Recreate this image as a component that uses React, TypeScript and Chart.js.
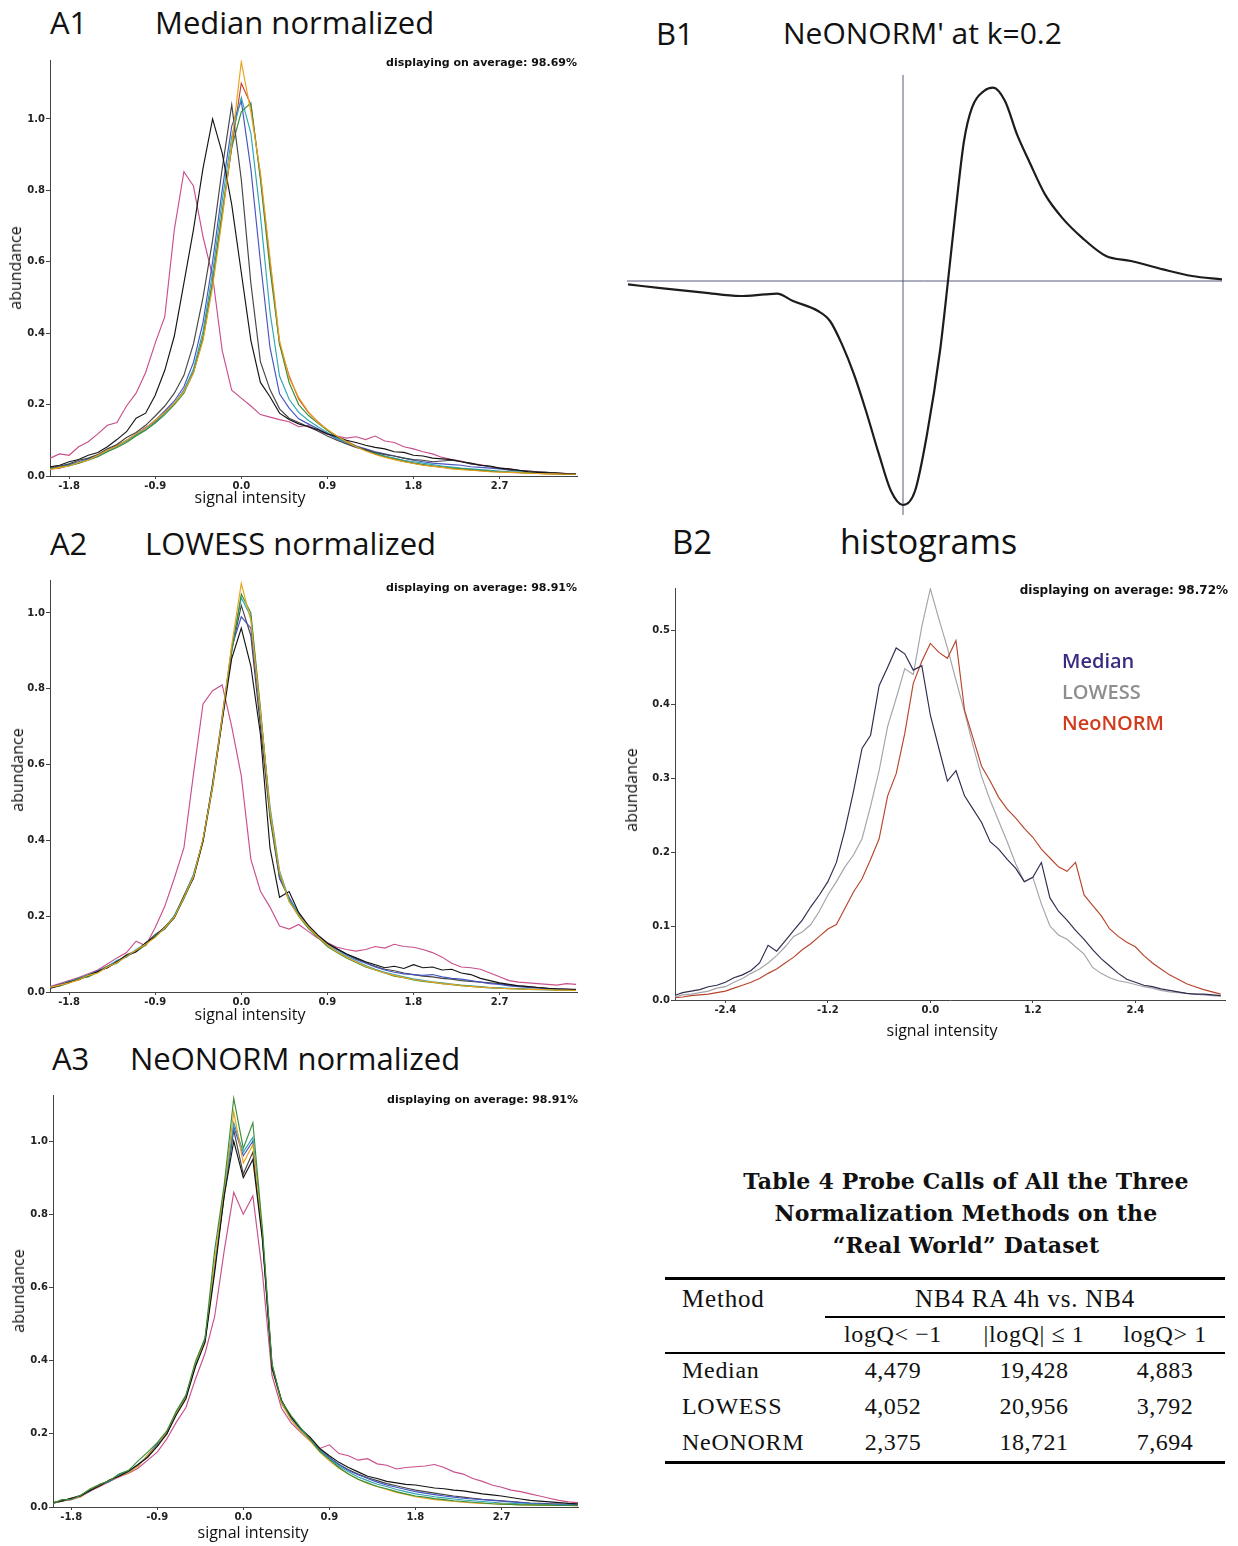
import React, { useEffect, useRef } from "react";
import { Chart, registerables } from "chart.js";
Chart.register(...registerables);

// ---------- DATA ----------
const X_A = [-2.0,-1.9,-1.8,-1.7,-1.6,-1.5,-1.4,-1.3,-1.2,-1.1,-1.0,-0.9,-0.8,-0.7,-0.6,-0.5,-0.4,-0.3,-0.2,-0.1,0.0,0.1,0.2,0.3,0.4,0.5,0.6,0.7,0.8,0.9,1.0,1.1,1.2,1.3,1.4,1.5,1.6,1.7,1.8,1.9,2.0,2.1,2.2,2.3,2.4,2.5,2.6,2.7,2.8,2.9,3.0,3.1,3.2,3.3,3.4,3.5];
const X_TICKS_A = [-1.8, -0.9, 0.0, 0.9, 1.8, 2.7];
const Y_TICKS_A = [0.0, 0.2, 0.4, 0.6, 0.8, 1.0];

// A1 Median normalized
const A1_PINK = [0.050,0.062,0.058,0.082,0.096,0.118,0.142,0.150,0.196,0.232,0.290,0.372,0.446,0.690,0.852,0.812,0.670,0.560,0.352,0.240,0.218,0.196,0.172,0.165,0.158,0.152,0.138,0.142,0.126,0.118,0.112,0.106,0.110,0.102,0.112,0.098,0.094,0.082,0.076,0.068,0.062,0.052,0.046,0.042,0.034,0.032,0.026,0.022,0.020,0.016,0.014,0.012,0.010,0.009,0.007,0.006];
const A1_BLACK = [0.026,0.030,0.040,0.046,0.058,0.066,0.082,0.102,0.124,0.162,0.176,0.226,0.296,0.392,0.540,0.690,0.862,1.000,0.905,0.760,0.570,0.380,0.262,0.222,0.176,0.158,0.146,0.138,0.130,0.118,0.110,0.100,0.094,0.086,0.080,0.076,0.068,0.066,0.058,0.056,0.050,0.048,0.046,0.040,0.036,0.030,0.028,0.022,0.020,0.016,0.012,0.010,0.009,0.008,0.006,0.005];
const A1_DARK = [0.024,0.028,0.034,0.044,0.050,0.060,0.076,0.088,0.108,0.122,0.142,0.168,0.196,0.232,0.282,0.370,0.500,0.660,0.860,1.040,0.830,0.540,0.320,0.242,0.188,0.162,0.150,0.138,0.126,0.112,0.100,0.090,0.080,0.074,0.066,0.060,0.056,0.050,0.046,0.044,0.040,0.042,0.044,0.040,0.034,0.030,0.026,0.022,0.018,0.016,0.014,0.012,0.010,0.008,0.007,0.006];
const A1_BLUE = [0.022,0.026,0.032,0.040,0.048,0.058,0.072,0.084,0.100,0.118,0.134,0.156,0.182,0.210,0.250,0.318,0.430,0.600,0.800,0.980,1.050,0.860,0.600,0.360,0.230,0.190,0.160,0.146,0.132,0.118,0.104,0.094,0.084,0.076,0.068,0.062,0.056,0.050,0.044,0.040,0.036,0.034,0.032,0.030,0.026,0.024,0.022,0.020,0.016,0.014,0.012,0.010,0.008,0.007,0.006,0.005];
const A1_TEAL = [0.022,0.024,0.030,0.038,0.046,0.056,0.070,0.082,0.098,0.114,0.130,0.150,0.176,0.204,0.240,0.300,0.405,0.570,0.770,0.950,1.060,0.960,0.730,0.460,0.280,0.215,0.178,0.156,0.138,0.122,0.106,0.094,0.082,0.072,0.064,0.056,0.050,0.044,0.040,0.036,0.032,0.028,0.025,0.022,0.020,0.018,0.016,0.014,0.012,0.011,0.010,0.009,0.008,0.007,0.006,0.005];
const A1_GREEN = [0.020,0.024,0.028,0.036,0.044,0.054,0.068,0.080,0.094,0.112,0.128,0.148,0.172,0.200,0.232,0.290,0.390,0.545,0.740,0.920,1.020,1.045,0.830,0.580,0.370,0.262,0.200,0.170,0.148,0.128,0.110,0.096,0.082,0.072,0.062,0.054,0.048,0.042,0.036,0.032,0.028,0.025,0.022,0.020,0.018,0.016,0.014,0.012,0.011,0.010,0.009,0.008,0.007,0.006,0.005,0.005];
const A1_ORANGE = [0.018,0.024,0.028,0.038,0.044,0.058,0.072,0.084,0.100,0.118,0.134,0.156,0.178,0.204,0.236,0.288,0.380,0.530,0.720,0.930,1.160,1.020,0.850,0.610,0.380,0.275,0.220,0.180,0.150,0.130,0.112,0.096,0.082,0.070,0.060,0.052,0.046,0.040,0.035,0.030,0.027,0.024,0.020,0.018,0.016,0.014,0.012,0.011,0.010,0.009,0.008,0.007,0.006,0.006,0.005,0.005];
const A1_RED = [0.020,0.022,0.030,0.036,0.046,0.056,0.070,0.086,0.098,0.116,0.136,0.152,0.180,0.202,0.240,0.292,0.384,0.540,0.730,0.920,1.100,1.040,0.840,0.600,0.370,0.280,0.216,0.178,0.152,0.128,0.110,0.098,0.084,0.072,0.062,0.054,0.047,0.041,0.036,0.031,0.028,0.025,0.021,0.019,0.017,0.015,0.013,0.012,0.010,0.009,0.008,0.007,0.006,0.006,0.005,0.005];

// A2 LOWESS normalized
const A2_PINK = [0.014,0.022,0.030,0.038,0.048,0.058,0.074,0.090,0.104,0.134,0.122,0.170,0.226,0.300,0.380,0.575,0.760,0.795,0.810,0.700,0.570,0.350,0.266,0.224,0.174,0.166,0.178,0.160,0.142,0.130,0.118,0.112,0.108,0.112,0.120,0.116,0.126,0.120,0.118,0.112,0.104,0.092,0.076,0.066,0.064,0.060,0.050,0.040,0.030,0.026,0.024,0.022,0.020,0.018,0.022,0.020];
const A2_BLACK = [0.010,0.018,0.026,0.032,0.044,0.054,0.064,0.080,0.096,0.106,0.130,0.146,0.172,0.196,0.252,0.300,0.400,0.545,0.715,0.880,0.960,0.860,0.680,0.380,0.250,0.265,0.210,0.176,0.150,0.128,0.114,0.100,0.090,0.080,0.072,0.064,0.068,0.062,0.072,0.064,0.066,0.058,0.060,0.050,0.046,0.036,0.030,0.024,0.020,0.016,0.014,0.012,0.010,0.008,0.007,0.006];
const A2_BLUE = [0.012,0.020,0.026,0.036,0.044,0.056,0.068,0.082,0.094,0.110,0.126,0.150,0.170,0.200,0.248,0.306,0.402,0.548,0.728,0.910,0.990,0.960,0.730,0.480,0.300,0.250,0.206,0.174,0.148,0.128,0.112,0.098,0.086,0.076,0.066,0.058,0.052,0.048,0.046,0.044,0.046,0.040,0.036,0.034,0.030,0.026,0.022,0.020,0.016,0.014,0.012,0.010,0.009,0.008,0.007,0.006];
const A2_TEAL = [0.010,0.018,0.028,0.034,0.046,0.054,0.066,0.084,0.092,0.112,0.128,0.146,0.168,0.202,0.252,0.310,0.398,0.552,0.722,0.905,1.040,0.990,0.740,0.490,0.320,0.244,0.208,0.170,0.146,0.124,0.108,0.094,0.082,0.070,0.060,0.052,0.046,0.040,0.035,0.031,0.027,0.024,0.021,0.018,0.016,0.014,0.012,0.011,0.010,0.009,0.008,0.007,0.006,0.006,0.005,0.005];
const A2_GREEN = [0.012,0.016,0.024,0.036,0.040,0.052,0.068,0.076,0.096,0.106,0.124,0.150,0.166,0.196,0.246,0.302,0.396,0.538,0.718,0.900,1.050,1.000,0.750,0.470,0.310,0.240,0.200,0.168,0.144,0.120,0.104,0.090,0.078,0.066,0.058,0.050,0.042,0.038,0.032,0.028,0.025,0.022,0.019,0.017,0.015,0.013,0.011,0.010,0.009,0.008,0.007,0.006,0.006,0.005,0.005,0.004];
const A2_ORANGE = [0.012,0.018,0.024,0.032,0.044,0.050,0.066,0.078,0.094,0.110,0.126,0.144,0.170,0.198,0.250,0.304,0.404,0.542,0.724,0.915,1.078,0.980,0.740,0.480,0.316,0.238,0.202,0.172,0.146,0.124,0.106,0.092,0.080,0.068,0.058,0.050,0.044,0.038,0.033,0.029,0.026,0.022,0.020,0.017,0.015,0.013,0.012,0.010,0.009,0.008,0.007,0.007,0.006,0.005,0.005,0.004];
const A2_GRAY = [0.010,0.016,0.026,0.034,0.042,0.056,0.064,0.080,0.098,0.108,0.128,0.152,0.168,0.200,0.254,0.308,0.400,0.546,0.720,0.900,1.020,0.940,0.700,0.460,0.300,0.246,0.204,0.176,0.150,0.130,0.114,0.100,0.088,0.078,0.068,0.060,0.056,0.050,0.046,0.042,0.040,0.036,0.034,0.030,0.028,0.026,0.024,0.022,0.018,0.016,0.014,0.012,0.010,0.009,0.008,0.007];

// A3 NeONORM normalized
const A3_PINK = [0.010,0.016,0.020,0.028,0.044,0.056,0.070,0.082,0.092,0.106,0.128,0.150,0.186,0.232,0.272,0.350,0.420,0.520,0.700,0.860,0.800,0.850,0.640,0.360,0.270,0.230,0.204,0.180,0.160,0.170,0.146,0.140,0.128,0.132,0.118,0.114,0.104,0.108,0.110,0.112,0.116,0.108,0.096,0.090,0.078,0.070,0.060,0.054,0.046,0.042,0.036,0.030,0.024,0.018,0.014,0.012];
const A3_BLACK = [0.012,0.016,0.024,0.030,0.046,0.058,0.074,0.084,0.098,0.116,0.136,0.166,0.200,0.252,0.296,0.384,0.450,0.640,0.850,1.000,0.900,0.950,0.730,0.380,0.290,0.246,0.214,0.190,0.160,0.140,0.122,0.108,0.096,0.084,0.078,0.070,0.066,0.062,0.060,0.056,0.052,0.050,0.046,0.044,0.040,0.036,0.033,0.030,0.026,0.022,0.018,0.016,0.014,0.012,0.010,0.009];
const A3_BLUE = [0.010,0.018,0.022,0.032,0.046,0.060,0.070,0.088,0.096,0.116,0.138,0.170,0.202,0.256,0.302,0.386,0.458,0.650,0.856,1.040,0.960,1.000,0.740,0.390,0.288,0.242,0.212,0.186,0.158,0.136,0.116,0.100,0.088,0.078,0.068,0.060,0.054,0.048,0.042,0.038,0.034,0.030,0.027,0.024,0.022,0.020,0.018,0.016,0.014,0.012,0.010,0.009,0.008,0.007,0.006,0.005];
const A3_GREEN = [0.008,0.020,0.020,0.032,0.050,0.062,0.072,0.090,0.100,0.126,0.150,0.176,0.208,0.262,0.306,0.398,0.462,0.700,0.880,1.117,0.980,1.050,0.760,0.392,0.288,0.250,0.216,0.184,0.152,0.130,0.108,0.090,0.076,0.066,0.056,0.050,0.042,0.036,0.030,0.027,0.023,0.020,0.017,0.015,0.013,0.011,0.009,0.008,0.007,0.006,0.006,0.005,0.005,0.004,0.004,0.004];
const A3_TEAL = [0.010,0.018,0.022,0.030,0.046,0.060,0.072,0.086,0.096,0.114,0.140,0.168,0.204,0.258,0.300,0.390,0.455,0.660,0.860,1.050,0.970,1.010,0.745,0.386,0.285,0.240,0.210,0.186,0.156,0.132,0.112,0.096,0.082,0.072,0.062,0.056,0.048,0.042,0.036,0.032,0.028,0.025,0.022,0.019,0.017,0.015,0.013,0.011,0.010,0.009,0.008,0.007,0.006,0.005,0.005,0.004];
const A3_ORANGE = [0.012,0.016,0.024,0.028,0.048,0.058,0.074,0.084,0.094,0.112,0.142,0.166,0.206,0.256,0.298,0.394,0.452,0.670,0.866,1.080,0.940,0.990,0.750,0.384,0.282,0.238,0.206,0.180,0.150,0.126,0.106,0.090,0.076,0.064,0.056,0.048,0.040,0.034,0.028,0.024,0.020,0.018,0.015,0.013,0.011,0.010,0.009,0.008,0.007,0.006,0.005,0.005,0.004,0.004,0.004,0.003];
const A3_GRAY = [0.010,0.016,0.024,0.032,0.044,0.062,0.070,0.088,0.098,0.112,0.142,0.172,0.200,0.260,0.304,0.392,0.460,0.655,0.850,1.030,0.910,0.970,0.740,0.380,0.292,0.244,0.212,0.184,0.154,0.134,0.116,0.102,0.090,0.080,0.072,0.064,0.058,0.052,0.046,0.042,0.038,0.034,0.030,0.027,0.024,0.021,0.019,0.017,0.015,0.013,0.011,0.010,0.009,0.008,0.007,0.006];

// B1 NeONORM' at k=0.2
const B1_X = [-2.75,-2.40,-1.99,-1.63,-1.38,-1.26,-1.10,-0.85,-0.73,-0.61,-0.49,-0.37,-0.24,-0.12,0.0,0.12,0.24,0.37,0.45,0.53,0.61,0.69,0.81,0.90,1.02,1.14,1.26,1.42,1.59,1.79,2.03,2.28,2.60,2.89,3.19];
const B1_Y = [-0.017,-0.037,-0.058,-0.075,-0.067,-0.063,-0.10,-0.15,-0.20,-0.317,-0.467,-0.65,-0.867,-1.05,-1.12,-1.05,-0.767,-0.35,0.0,0.367,0.70,0.867,0.95,0.967,0.90,0.733,0.60,0.433,0.317,0.217,0.125,0.10,0.058,0.025,0.008];

// B2 histograms
const X_B = [-3.0,-2.9,-2.8,-2.7,-2.6,-2.5,-2.4,-2.3,-2.2,-2.1,-2.0,-1.9,-1.8,-1.7,-1.6,-1.5,-1.4,-1.3,-1.2,-1.1,-1.0,-0.9,-0.8,-0.7,-0.6,-0.5,-0.4,-0.3,-0.2,-0.1,0.0,0.1,0.2,0.3,0.4,0.5,0.6,0.7,0.8,0.9,1.0,1.1,1.2,1.3,1.4,1.5,1.6,1.7,1.8,1.9,2.0,2.1,2.2,2.3,2.4,2.5,2.6,2.7,2.8,2.9,3.0,3.1,3.2,3.3,3.4];
const X_TICKS_B = [-2.4, -1.2, 0.0, 1.2, 2.4];
const Y_TICKS_B = [0.0, 0.1, 0.2, 0.3, 0.4, 0.5];
const B2_MEDIAN = [0.006,0.010,0.012,0.014,0.018,0.020,0.024,0.030,0.034,0.040,0.050,0.074,0.066,0.080,0.094,0.108,0.126,0.142,0.160,0.186,0.230,0.282,0.340,0.358,0.425,0.450,0.476,0.468,0.446,0.452,0.385,0.340,0.296,0.310,0.276,0.258,0.240,0.214,0.204,0.190,0.178,0.160,0.166,0.186,0.138,0.120,0.108,0.094,0.082,0.068,0.056,0.046,0.036,0.028,0.024,0.020,0.018,0.015,0.013,0.011,0.009,0.008,0.008,0.007,0.006];
const B2_LOWESS = [0.004,0.007,0.008,0.010,0.012,0.016,0.018,0.024,0.029,0.036,0.042,0.050,0.060,0.072,0.086,0.092,0.102,0.120,0.142,0.160,0.180,0.196,0.218,0.262,0.310,0.370,0.408,0.448,0.440,0.505,0.556,0.515,0.476,0.432,0.390,0.344,0.302,0.270,0.242,0.214,0.184,0.160,0.166,0.130,0.100,0.088,0.082,0.072,0.062,0.044,0.036,0.030,0.026,0.024,0.021,0.018,0.016,0.013,0.011,0.010,0.009,0.008,0.007,0.006,0.005];
const B2_NEONORM = [0.003,0.004,0.006,0.007,0.008,0.010,0.012,0.016,0.020,0.024,0.029,0.036,0.042,0.050,0.058,0.068,0.076,0.086,0.096,0.102,0.124,0.146,0.164,0.190,0.218,0.276,0.306,0.360,0.428,0.458,0.482,0.470,0.462,0.486,0.392,0.354,0.316,0.296,0.274,0.258,0.246,0.232,0.220,0.204,0.192,0.180,0.174,0.186,0.142,0.128,0.114,0.096,0.086,0.078,0.072,0.060,0.050,0.042,0.034,0.028,0.022,0.018,0.014,0.011,0.008];
const B2_LEGEND = ["Median", "LOWESS", "NeoNORM"];

// Table 4
const TABLE_TITLE = ["Table 4 Probe Calls of All the Three", "Normalization Methods on the", "\u201CReal World\u201D Dataset"];
const TABLE_GROUP = "NB4 RA 4h vs. NB4";
const TABLE_COLS = ["logQ< \u22121", "|logQ| \u2264 1", "logQ> 1"];
const METHODS = ["Median", "LOWESS", "NeONORM"];
const CALLS_DOWN = [4479, 4052, 2375];
const CALLS_MID = [19428, 20956, 18721];
const CALLS_UP = [4883, 3792, 7694];

// ---------- STYLE ----------
const SANS = '"Open Sans", "Noto Sans", sans-serif';
const TICK_FONT = { family: '"DejaVu Sans", sans-serif', size: 10, weight: "bold" as const };
const C = {
  pink: "#c8508c", black: "#141414", dark: "#454545", blue: "#4654c0",
  teal: "#2ea6b4", green: "#3a8e3a", orange: "#e9a21e", red: "#c8402a",
};

type Series = { values: number[]; color: string; width?: number };
type HistOpts = {
  xMin: number; xMax: number; yMax: number; xTicks: number[]; yTicks: number[];
  yW: number; xH: number; padTop: number; padRight: number;
};

function histConfig(xs: number[], series: Series[], o: HistOpts): any {
  const axisCommon = (ticksArr: number[]) => ({
    type: "linear",
    bounds: "data",
    afterBuildTicks: (s: any) => { s.ticks = ticksArr.map((v) => ({ value: v })); },
    ticks: { callback: (v: any) => Number(v).toFixed(1), font: TICK_FONT, color: "#222", padding: 1, maxRotation: 0, autoSkip: false },
    grid: { drawOnChartArea: false, drawTicks: true, tickLength: 3, color: "#444" },
    border: { color: "#444", width: 1 },
  });
  return {
    type: "line",
    data: {
      datasets: series.map((s) => ({
        data: xs.map((x, i) => ({ x, y: s.values[i] })),
        borderColor: s.color, borderWidth: s.width ?? 1.15, pointRadius: 0, tension: 0, fill: false,
      })),
    },
    options: {
      animation: false, responsive: false, devicePixelRatio: 1, events: [],
      layout: { padding: { left: 0, top: o.padTop, right: o.padRight, bottom: 0 } },
      plugins: { legend: { display: false }, tooltip: { enabled: false } },
      scales: {
        x: { ...axisCommon(o.xTicks), min: o.xMin, max: o.xMax, afterFit: (s: any) => { s.height = o.xH; } },
        y: { ...axisCommon(o.yTicks), min: 0, max: o.yMax, grid: { drawOnChartArea: false, drawTicks: true, tickLength: 4, color: "#444" }, afterFit: (s: any) => { s.width = o.yW; } },
      },
    },
  };
}

const crosshair = {
  id: "crosshair",
  beforeDatasetsDraw(chart: any) {
    const { ctx, chartArea, scales } = chart;
    const x0 = scales.x.getPixelForValue(0);
    const y0 = scales.y.getPixelForValue(0);
    ctx.save();
    ctx.strokeStyle = "#5a5a80";
    ctx.lineWidth = 1;
    ctx.beginPath();
    ctx.moveTo(x0, chartArea.top); ctx.lineTo(x0, chartArea.bottom);
    ctx.moveTo(chartArea.left, y0); ctx.lineTo(chartArea.right, y0);
    ctx.stroke();
    ctx.restore();
  },
};

function b1Config(): any {
  return {
    type: "line",
    data: { datasets: [{ data: B1_X.map((x, i) => ({ x, y: B1_Y[i] })), borderColor: "#1c1c1c", borderWidth: 2.2, pointRadius: 0, cubicInterpolationMode: "monotone", fill: false }] },
    options: {
      animation: false, responsive: false, devicePixelRatio: 1, events: [],
      layout: { padding: { left: 7, top: 5, right: 8, bottom: 5 } },
      plugins: { legend: { display: false }, tooltip: { enabled: false } },
      scales: {
        x: { type: "linear", display: false, min: -2.76, max: 3.19 },
        y: { type: "linear", display: false, min: -1.17, max: 1.03 },
      },
    },
    plugins: [crosshair],
  };
}

function ChartBox(p: { left: number; top: number; width: number; height: number; make: () => any }) {
  const ref = useRef<HTMLCanvasElement>(null);
  useEffect(() => {
    const chart = new Chart(ref.current as HTMLCanvasElement, p.make());
    return () => chart.destroy();
  }, []);
  return (
    <div style={{ position: "absolute", left: p.left, top: p.top, width: p.width, height: p.height }}>
      <canvas ref={ref} width={p.width} height={p.height} style={{ width: p.width, height: p.height, display: "block" }} />
    </div>
  );
}

type TP = { x: number; y: number; text: string; size?: number; weight?: number | string; family?: string; color?: string; align?: "left" | "center" | "right"; rotate?: boolean; ls?: number };
function Txt(p: TP) {
  const tx = p.align === "center" ? "-50%" : p.align === "right" ? "-100%" : "0";
  const transform = p.rotate ? "translate(-50%,-50%) rotate(-90deg)" : `translate(${tx},-50%)`;
  return (
    <div style={{ position: "absolute", left: p.x, top: p.y, transform, fontSize: p.size ?? 16, fontWeight: p.weight ?? 400, fontFamily: p.family ?? SANS, color: p.color ?? "#111", whiteSpace: "nowrap", lineHeight: 1, letterSpacing: p.ls ?? 0 }}>
      {p.text}
    </div>
  );
}

function Rule(p: { x: number; y: number; w: number; h: number }) {
  return <div style={{ position: "absolute", left: p.x, top: p.y, width: p.w, height: p.h, background: "#000" }} />;
}

const SERIF = '"Liberation Serif", "DejaVu Serif", serif';
const SERIF_BOLD = '"DejaVu Serif", "Liberation Serif", serif';
const NOTE_FONT = '"DejaVu Sans", sans-serif';

export default function App() {
  const a1 = () => histConfig(X_A, [
    { values: A1_ORANGE, color: C.orange }, { values: A1_BLACK, color: C.black }, { values: A1_DARK, color: C.dark },
    { values: A1_GREEN, color: C.green }, { values: A1_TEAL, color: C.teal }, { values: A1_BLUE, color: C.blue },
    { values: A1_RED, color: C.red }, { values: A1_PINK, color: C.pink },
  ], { xMin: -2.0, xMax: 3.51, yMax: 1.165, xTicks: X_TICKS_A, yTicks: Y_TICKS_A, yW: 50, xH: 26, padTop: 10, padRight: 13 });
  const a2 = () => histConfig(X_A, [
    { values: A2_ORANGE, color: C.orange }, { values: A2_BLACK, color: C.black }, { values: A2_GREEN, color: C.green },
    { values: A2_TEAL, color: C.teal }, { values: A2_BLUE, color: C.blue }, { values: A2_GRAY, color: C.dark },
    { values: A2_PINK, color: C.pink },
  ], { xMin: -2.0, xMax: 3.51, yMax: 1.087, xTicks: X_TICKS_A, yTicks: Y_TICKS_A, yW: 50, xH: 26, padTop: 10, padRight: 13 });
  const a3 = () => histConfig(X_A, [
    { values: A3_GREEN, color: C.green }, { values: A3_BLACK, color: C.black }, { values: A3_ORANGE, color: C.orange },
    { values: A3_TEAL, color: C.teal }, { values: A3_BLUE, color: C.blue }, { values: A3_GRAY, color: C.dark },
    { values: A3_PINK, color: C.pink },
  ], { xMin: -1.99, xMax: 3.5, yMax: 1.126, xTicks: X_TICKS_A, yTicks: Y_TICKS_A, yW: 53, xH: 26, padTop: 10, padRight: 12 });
  const b2 = () => histConfig(X_B, [
    { values: B2_MEDIAN, color: "#2e2b4e" }, { values: B2_NEONORM, color: "#b8452c" }, { values: B2_LOWESS, color: "#a3a3aa" },
  ], { xMin: -2.99, xMax: 3.45, yMax: 0.557, xTicks: X_TICKS_B, yTicks: Y_TICKS_B, yW: 55, xH: 26, padTop: 10, padRight: 10 });

  const legendColors = ["#3a2a80", "#8e8e8e", "#d23c1e"];
  const colX = [893, 1034, 1165];
  const rowY = [1370, 1406, 1442];
  const fmt = (n: number) => n.toLocaleString("en-US");

  return (
    <div style={{ position: "absolute", left: 0, top: 0, width: 1238, height: 1546, background: "#fff", overflow: "hidden" }}>
      {/* Titles */}
      <Txt x={50} y={22} text="A1" size={31} />
      <Txt x={155} y={22} text="Median normalized" size={31} />
      <Txt x={50} y={543} text="A2" size={31} />
      <Txt x={145} y={543} text="LOWESS normalized" size={31} />
      <Txt x={52} y={1058} text="A3" size={31} />
      <Txt x={130} y={1058} text="NeONORM normalized" size={31} />
      <Txt x={656} y={33} text="B1" size={31} />
      <Txt x={783} y={33} text="NeONORM' at k=0.2" size={30} />
      <Txt x={672} y={541} text="B2" size={33} />
      <Txt x={840} y={541} text="histograms" size={34} />

      {/* Charts */}
      <ChartBox left={0} top={50} width={590} height={452} make={a1} />
      <ChartBox left={0} top={570} width={590} height={448} make={a2} />
      <ChartBox left={0} top={1085} width={590} height={448} make={a3} />
      <ChartBox left={620} top={70} width={610} height={450} make={b1Config} />
      <ChartBox left={620} top={578} width={615} height={448} make={b2} />

      {/* Axis titles and notes */}
      <Txt x={577} y={62} text="displaying on average: 98.69%" size={11} weight="bold" family={NOTE_FONT} align="right" />
      <Txt x={577} y={587} text="displaying on average: 98.91%" size={11} weight="bold" family={NOTE_FONT} align="right" />
      <Txt x={578} y={1099} text="displaying on average: 98.91%" size={11} weight="bold" family={NOTE_FONT} align="right" />
      <Txt x={1228} y={590} text="displaying on average: 98.72%" size={12} weight="bold" family={NOTE_FONT} align="right" />

      <Txt x={250} y={497} text="signal intensity" size={16} align="center" />
      <Txt x={250} y={1014} text="signal intensity" size={16} align="center" />
      <Txt x={253} y={1532} text="signal intensity" size={16} align="center" />
      <Txt x={942} y={1030} text="signal intensity" size={16} align="center" />
      <Txt x={15} y={268} text="abundance" size={16} rotate />
      <Txt x={17} y={770} text="abundance" size={16} rotate />
      <Txt x={18} y={1291} text="abundance" size={16} rotate />
      <Txt x={631} y={790} text="abundance" size={16} rotate />

      {/* B2 legend */}
      {B2_LEGEND.map((t, i) => (
        <Txt key={t} x={1062} y={661 + i * 31} text={t} size={20} weight={600} color={legendColors[i]} />
      ))}

      {/* Table */}
      {TABLE_TITLE.map((t, i) => (
        <Txt key={t} x={966} y={1181 + i * 32} text={t} size={22} weight="bold" family={SERIF_BOLD} align="center" ls={0.2} />
      ))}
      <Rule x={665} y={1277} w={560} h={3} />
      <Txt x={682} y={1298} text="Method" size={25} family={SERIF} ls={0.8} />
      <Txt x={1025} y={1298} text={TABLE_GROUP} size={25} family={SERIF} align="center" ls={0.8} />
      <Rule x={825} y={1316} w={400} h={1.5} />
      {TABLE_COLS.map((t, i) => (
        <Txt key={t} x={colX[i]} y={1334} text={t} size={24} family={SERIF} align="center" ls={0.6} />
      ))}
      <Rule x={665} y={1352} w={560} h={1.5} />
      {METHODS.map((m, r) => (
        <React.Fragment key={m}>
          <Txt x={682} y={rowY[r]} text={m} size={24} family={SERIF} ls={0.7} />
          <Txt x={colX[0]} y={rowY[r]} text={fmt(CALLS_DOWN[r])} size={24} family={SERIF} align="center" ls={0.5} />
          <Txt x={colX[1]} y={rowY[r]} text={fmt(CALLS_MID[r])} size={24} family={SERIF} align="center" ls={0.5} />
          <Txt x={colX[2]} y={rowY[r]} text={fmt(CALLS_UP[r])} size={24} family={SERIF} align="center" ls={0.5} />
        </React.Fragment>
      ))}
      <Rule x={665} y={1461} w={560} h={3} />
    </div>
  );
}
